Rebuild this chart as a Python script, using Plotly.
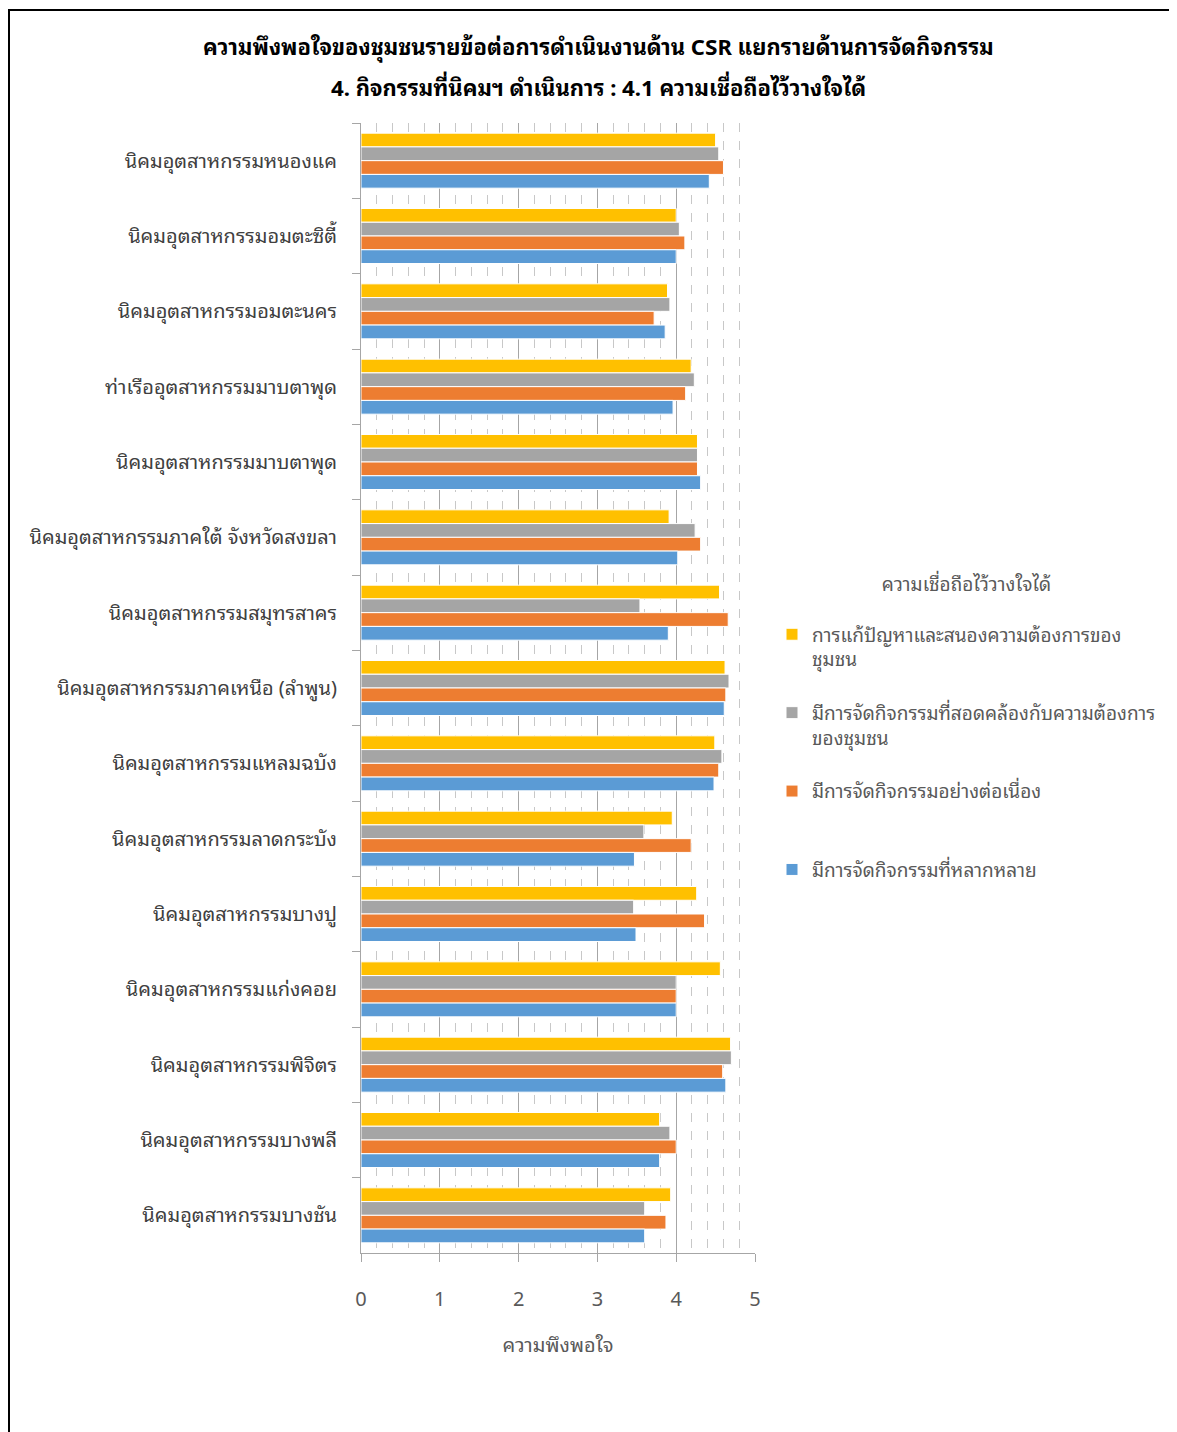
import plotly.graph_objects as go

categories = [
    "นิคมอุตสาหกรรมหนองแค",
    "นิคมอุตสาหกรรมอมตะซิตี้",
    "นิคมอุตสาหกรรมอมตะนคร",
    "ท่าเรืออุตสาหกรรมมาบตาพุด",
    "นิคมอุตสาหกรรมมาบตาพุด",
    "นิคมอุตสาหกรรมภาคใต้ จังหวัดสงขลา",
    "นิคมอุตสาหกรรมสมุทรสาคร",
    "นิคมอุตสาหกรรมภาคเหนือ (ลำพูน)",
    "นิคมอุตสาหกรรมแหลมฉบัง",
    "นิคมอุตสาหกรรมลาดกระบัง",
    "นิคมอุตสาหกรรมบางปู",
    "นิคมอุตสาหกรรมแก่งคอย",
    "นิคมอุตสาหกรรมพิจิตร",
    "นิคมอุตสาหกรรมบางพลี",
    "นิคมอุตสาหกรรมบางชัน",
]

series_names = [
    "การแก้ปัญหาและสนองความต้องการของ<br>ชุมชน",
    "มีการจัดกิจกรรมที่สอดคล้องกับความต้องการ<br>ของชุมชน",
    "มีการจัดกิจกรรมอย่างต่อเนื่อง<br> ",
    "มีการจัดกิจกรรมที่หลากหลาย",
]

solve_problems = [4.50, 4.00, 3.89, 4.19, 4.27, 3.91, 4.55, 4.62, 4.49, 3.95, 4.26, 4.56, 4.69, 3.79, 3.93]
matching_needs = [4.54, 4.04, 3.92, 4.23, 4.27, 4.24, 3.54, 4.67, 4.58, 3.59, 3.46, 4.00, 4.70, 3.92, 3.60]
continuous = [4.60, 4.11, 3.72, 4.12, 4.27, 4.31, 4.66, 4.63, 4.54, 4.19, 4.36, 4.00, 4.59, 4.00, 3.87]
diverse = [4.42, 4.00, 3.86, 3.96, 4.31, 4.02, 3.90, 4.61, 4.48, 3.47, 3.49, 4.00, 4.63, 3.79, 3.60]

colors = ["#FFC000", "#A5A5A5", "#ED7D31", "#5B9BD5"]

x_ticks = [0, 1, 2, 3, 4, 5]

title_line1 = "ความพึงพอใจของชุมชนรายข้อต่อการดำเนินงานด้าน CSR แยกรายด้านการจัดกิจกรรม"
title_line2 = "4. กิจกรรมที่นิคมฯ ดำเนินการ : 4.1 ความเชื่อถือไว้วางใจได้"
legend_title = "ความเชื่อถือไว้วางใจได้"

FONT = "Tahoma, 'Noto Sans Thai Looped', 'Noto Sans Thai', 'DejaVu Sans', sans-serif"

# page has an 8px body margin; figure is sized/positioned to compensate
W, H = 1169, 1424
L, R, T, B = 353, 422, 115, 179
PW = W - L - R
PH = H - T - B

fig = go.Figure()
for i, (name, vals) in enumerate(zip(series_names, [solve_problems, matching_needs, continuous, diverse])):
    fig.add_trace(go.Bar(
        y=categories, x=vals, name=name, orientation="h",
        marker=dict(color=colors[i], line=dict(color="white", width=1)),
        legendgroup=f"g{i}",
    ))

fig.update_layout(
    width=W, height=H,
    barmode="group", bargap=0.27, bargroupgap=0.0,
    plot_bgcolor="white", paper_bgcolor="white",
    margin=dict(l=L, r=R, t=T, b=B),
    font=dict(family=FONT, color="#404040", size=20),
    title=dict(
        text="<b>" + title_line1 + "</b>",
        x=0.505, xanchor="center", y=1 - 39 / H, yanchor="middle",
        font=dict(size=22, color="#000000"),
    ),
    legend=dict(
        title=dict(text=legend_title + "<br> ", side="top center", font=dict(size=19, color="#595959")),
        x=(764 - L) / PW, xanchor="left", y=1 - (558 - T) / PH, yanchor="top",
        font=dict(size=19, color="#595959"),
        valign="top", tracegroupgap=26, traceorder="grouped",
        bgcolor="rgba(0,0,0,0)",
    ),
    showlegend=True,
)

fig.add_annotation(
    text="<b>" + title_line2 + "</b>",
    xref="paper", yref="paper",
    x=(590 - L) / PW, y=1 + (T - 78) / PH,
    xanchor="center", yanchor="middle", showarrow=False,
    font=dict(size=22, color="#000000", family=FONT),
)

fig.update_xaxes(
    range=[0, 5], tickvals=x_ticks, ticktext=[str(v) for v in x_ticks],
    showgrid=True, gridcolor="#A6A6A6", gridwidth=1,
    minor=dict(dtick=0.2, showgrid=True, gridcolor="#C8C8C8", griddash="dash", gridwidth=1),
    showline=True, linecolor="#A6A6A6", linewidth=1,
    ticks="outside", ticklen=8, tickcolor="#A6A6A6",
    ticklabelstandoff=20,
    tickfont=dict(size=20, color="#595959"),
    title=dict(text="ความพึงพอใจ", font=dict(size=20, color="#595959"), standoff=25),
    zeroline=False,
)
fig.update_yaxes(
    autorange="reversed", type="category",
    showline=True, linecolor="#A6A6A6", linewidth=1,
    ticks="outside", ticklen=8, tickcolor="#A6A6A6", tickson="boundaries",
    ticklabelstandoff=19,
    tickfont=dict(size=20, color="#404040"),
    showgrid=False,
)

# outer chart border
fig.add_shape(type="rect", xref="paper", yref="paper",
              x0=(1 - L) / PW, x1=(W + 10 - L) / PW,
              y0=(H - B - (H + 10)) / PH, y1=(H - B - 2) / PH,
              line=dict(color="#000000", width=2), fillcolor="rgba(0,0,0,0)", layer="above")

fig.write_html("out.html")
